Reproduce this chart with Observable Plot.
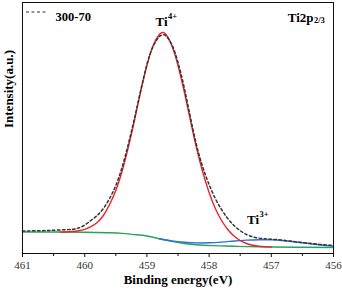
<!DOCTYPE html>
<html><head><meta charset="utf-8">
<script src="https://cdn.jsdelivr.net/npm/d3@7"></script>
<script src="https://cdn.jsdelivr.net/npm/@observablehq/plot@0.6"></script>
<style>
body{margin:0;background:#fff;}
#wrap{position:relative;width:342px;height:294px;}
</style></head><body><div id="wrap"></div>
<script>
// Background (green)
const greenE = [461, 460.5, 460, 459.8, 459.6, 459.4, 459.2, 459, 458.8, 458.6, 458.4, 458.2, 458, 457.8, 457.6, 457.4, 457.2, 457, 456.5, 456];
const greenI = [21.5, 21.5, 21.2, 21, 20.7, 20.1, 18.9, 17.5, 14.8, 12.2, 10, 8.7, 8, 7.6, 7.2, 6.9, 6.7, 6.5, 6.2, 6];
// Ti3+ component (blue)
const blueE = [458.8, 458.6, 458.4, 458.2, 458.0, 457.8, 457.6, 457.4, 457.2, 457.0, 456.8, 456.6, 456.4, 456.2, 456.0];
const blueI = [14.8, 12.6, 11.2, 10.6, 10.7, 11.4, 12.5, 13.4, 13.8, 13.6, 12.8, 11.5, 10, 8.5, 7.3];
// Ti4+ component (red)
const redE = [460.4, 460.3, 460.2, 460.1, 460.0, 459.9, 459.8, 459.7, 459.6, 459.5, 459.4, 459.3, 459.2, 459.1, 459.0, 458.9, 458.8, 458.75, 458.7, 458.6, 458.5, 458.4, 458.3, 458.2, 458.1, 458.0, 457.9, 457.8, 457.7, 457.6, 457.5, 457.4, 457.3, 457.2, 457.1, 457.0];
const redI = [21.4, 21.5, 22.0, 22.8, 24.2, 26.8, 31, 38, 49, 63, 82, 106, 133, 162, 188, 208, 219, 221, 219.5, 208, 188, 162, 133, 105, 81, 61, 45, 33, 24, 17.5, 13, 10, 8.2, 7.2, 6.8, 6.5];
// Measured envelope "300-70" (dotted)
const envE = [461, 460.8, 460.6, 460.4, 460.2, 460.1, 460.0, 459.9, 459.8, 459.7, 459.6, 459.5, 459.4, 459.3, 459.2, 459.1, 459.0, 458.9, 458.8, 458.75, 458.7, 458.6, 458.5, 458.4, 458.3, 458.2, 458.1, 458.0, 457.9, 457.8, 457.7, 457.6, 457.5, 457.4, 457.3, 457.2, 457.1, 457.0, 456.8, 456.6, 456.4, 456.2, 456.0];
const envI = [22.5, 22.7, 23, 23.5, 24.2, 25.5, 28.5, 33, 38, 45, 55, 68, 86, 109, 135, 163, 189, 207, 217, 218.5, 218, 209, 191, 166, 136, 108, 86, 69, 55, 44, 35, 28, 22.8, 19, 16.7, 15.4, 14.7, 14.3, 13.2, 11.6, 10.2, 9, 8];

const majorTicks = [461, 460, 459, 458, 457, 456];
const minorTicks = [460.5, 459.5, 458.5, 457.5, 456.5];
const peakNames = ["Ti", "Ti"];
const peakSups = ["4+", "3+"];
const peakE = [458.86, 457.39];
const peakI = [232, 34];

const pts = (E, I) => E.map((e, i) => ({e, v: I[i]}));
const green = pts(greenE, greenI), blue = pts(blueE, blueI), red = pts(redE, redI), env = pts(envE, envI);
const labels = peakE.map((e, i) => ({e, v: peakI[i], name: peakNames[i], sup: peakSups[i]}));

const serif = "Liberation Serif, Times New Roman, serif";
const chart = Plot.plot({
  width: 342, height: 294,
  marginLeft: 22, marginRight: 9, marginTop: 2, marginBottom: 41,
  style: {fontFamily: serif, background: "#fff", color: "#000"},
  x: {domain: [461, 456]},
  y: {domain: [0, 251], axis: null},
  marks: [
    Plot.line(green, {x: "e", y: "v", stroke: "#27a35a", strokeWidth: 1.4, curve: "natural"}),
    Plot.line(blue, {x: "e", y: "v", stroke: "#2b6fd8", strokeWidth: 1.4, curve: "natural"}),
    Plot.line(red, {x: "e", y: "v", stroke: "#ec2229", strokeWidth: 1.4, curve: "natural"}),
    Plot.line(env, {x: "e", y: "v", stroke: "#333", strokeWidth: 1.5, strokeDasharray: "2.5,2.5", curve: "natural"}),
    Plot.frame({stroke: "#111", strokeWidth: 1}),
    Plot.axisX({ticks: majorTicks, tickSize: 4, tickPadding: 4, fontSize: 11, tickFormat: d => String(d), fill: "#333", stroke: "#111", label: null}),
    Plot.axisX({ticks: minorTicks, tickSize: 3, text: null, stroke: "#111", label: null}),
    Plot.text(labels, {x: "e", y: "v", text: "name", textAnchor: "start", fontSize: 13, fontWeight: "bold"}),
    Plot.text(labels, {x: "e", y: "v", text: "sup", textAnchor: "start", fontSize: 8.5, fontWeight: "bold", dx: 12.5, dy: -5}),
    Plot.text(["Binding energy(eV)"], {frameAnchor: "bottom", dy: 30, fontSize: 13, fontWeight: "bold"}),
    Plot.text(["Intensity(a.u.)"], {frameAnchor: "left", dx: -14, rotate: -90, fontSize: 13, fontWeight: "bold"}),
    Plot.text(["Ti2p"], {frameAnchor: "top-right", dx: -20, dy: 10.5, textAnchor: "end", fontSize: 13, fontWeight: "bold"}),
    Plot.text(["2/3"], {frameAnchor: "top-right", dx: -19.5, dy: 14.3, textAnchor: "start", fontSize: 8.5, fontWeight: "bold"}),
    Plot.text(["300-70"], {frameAnchor: "top-left", dx: 33, dy: 9.5, textAnchor: "start", fontSize: 12.5, fontWeight: "bold"})
  ]
});
document.getElementById("wrap").appendChild(chart);
// legend swatch for the dotted envelope
d3.select(chart).append("line")
  .attr("x1", 26).attr("x2", 48).attr("y1", 12).attr("y2", 12)
  .attr("stroke", "#333").attr("stroke-width", 1.2).attr("stroke-dasharray", "3,2.5");
</script></body></html>
